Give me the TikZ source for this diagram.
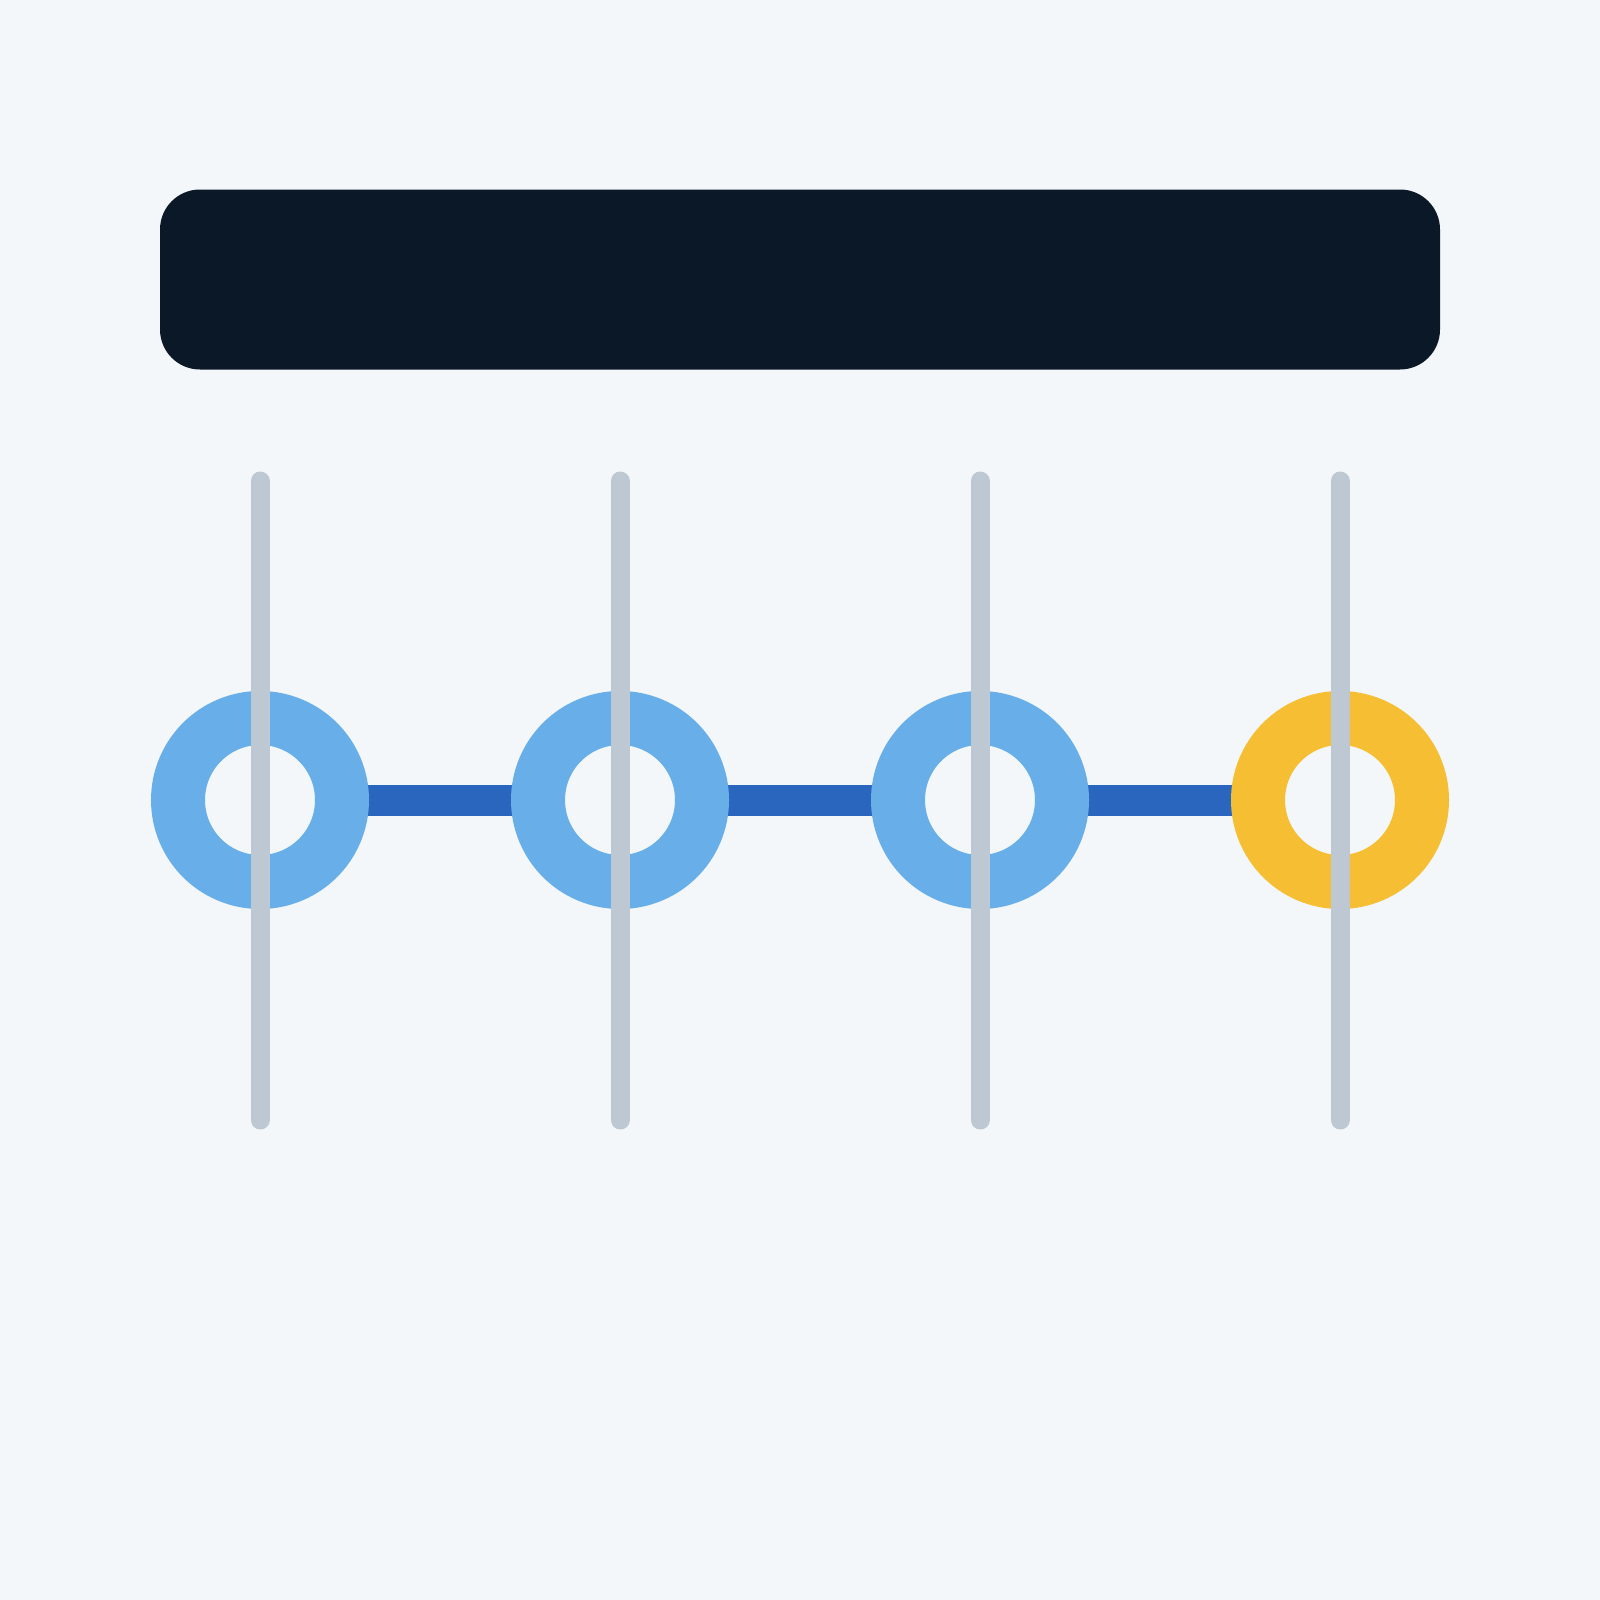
\documentclass[tikz,border=0pt]{standalone}
\definecolor{bgc}{HTML}{F3F7FA}
\definecolor{darkc}{HTML}{0B1828}
\definecolor{ringblue}{HTML}{68AFE9}
\definecolor{ringyellow}{HTML}{F6BE32}
\definecolor{connc}{HTML}{2A66BE}
\definecolor{greyc}{HTML}{BDC8D3}
\pgfdeclarelayer{bg}
\pgfdeclarelayer{conn}
\pgfsetlayers{bg,conn,main}
\tikzset{
  ring/.style={circle, draw=#1, line width=27pt, minimum size=82pt, inner sep=0pt, outer sep=0pt},
  link/.style={draw=connc, line width=15.5pt},
  rail/.style={draw=greyc, line width=9.5pt, line cap=round},
  header/.style={rectangle, fill=darkc, rounded corners=20pt, minimum width=640pt, minimum height=90pt, inner sep=0pt}
}
\begin{document}
\begin{tikzpicture}[x=0.5pt, y=-0.5pt]
\begin{pgfonlayer}{bg}
\fill[bgc] (0,0) rectangle (1600,1600);
\end{pgfonlayer}
\useasboundingbox (0,0) rectangle (1600,1600);
\node[header] (hdr) at (800,279.5) {};
\node[ring=ringblue] (r1) at (260,800) {};
\node[ring=ringblue] (r2) at (620,800) {};
\node[ring=ringblue] (r3) at (980,800) {};
\node[ring=ringyellow] (r4) at (1340,800) {};
\begin{pgfonlayer}{conn}
\draw[link] (r1.east) -- (r2.west);
\draw[link] (r2.east) -- (r3.west);
\draw[link] (r3.east) -- (r4.west);
\end{pgfonlayer}
\foreach \i/\x in {1/260,2/620,3/980,4/1340}{
  \coordinate (t\i) at (\x,481);
  \coordinate (b\i) at (\x,1120);
  \draw[rail] (t\i) -- (b\i);
}
\end{tikzpicture}
\end{document}
